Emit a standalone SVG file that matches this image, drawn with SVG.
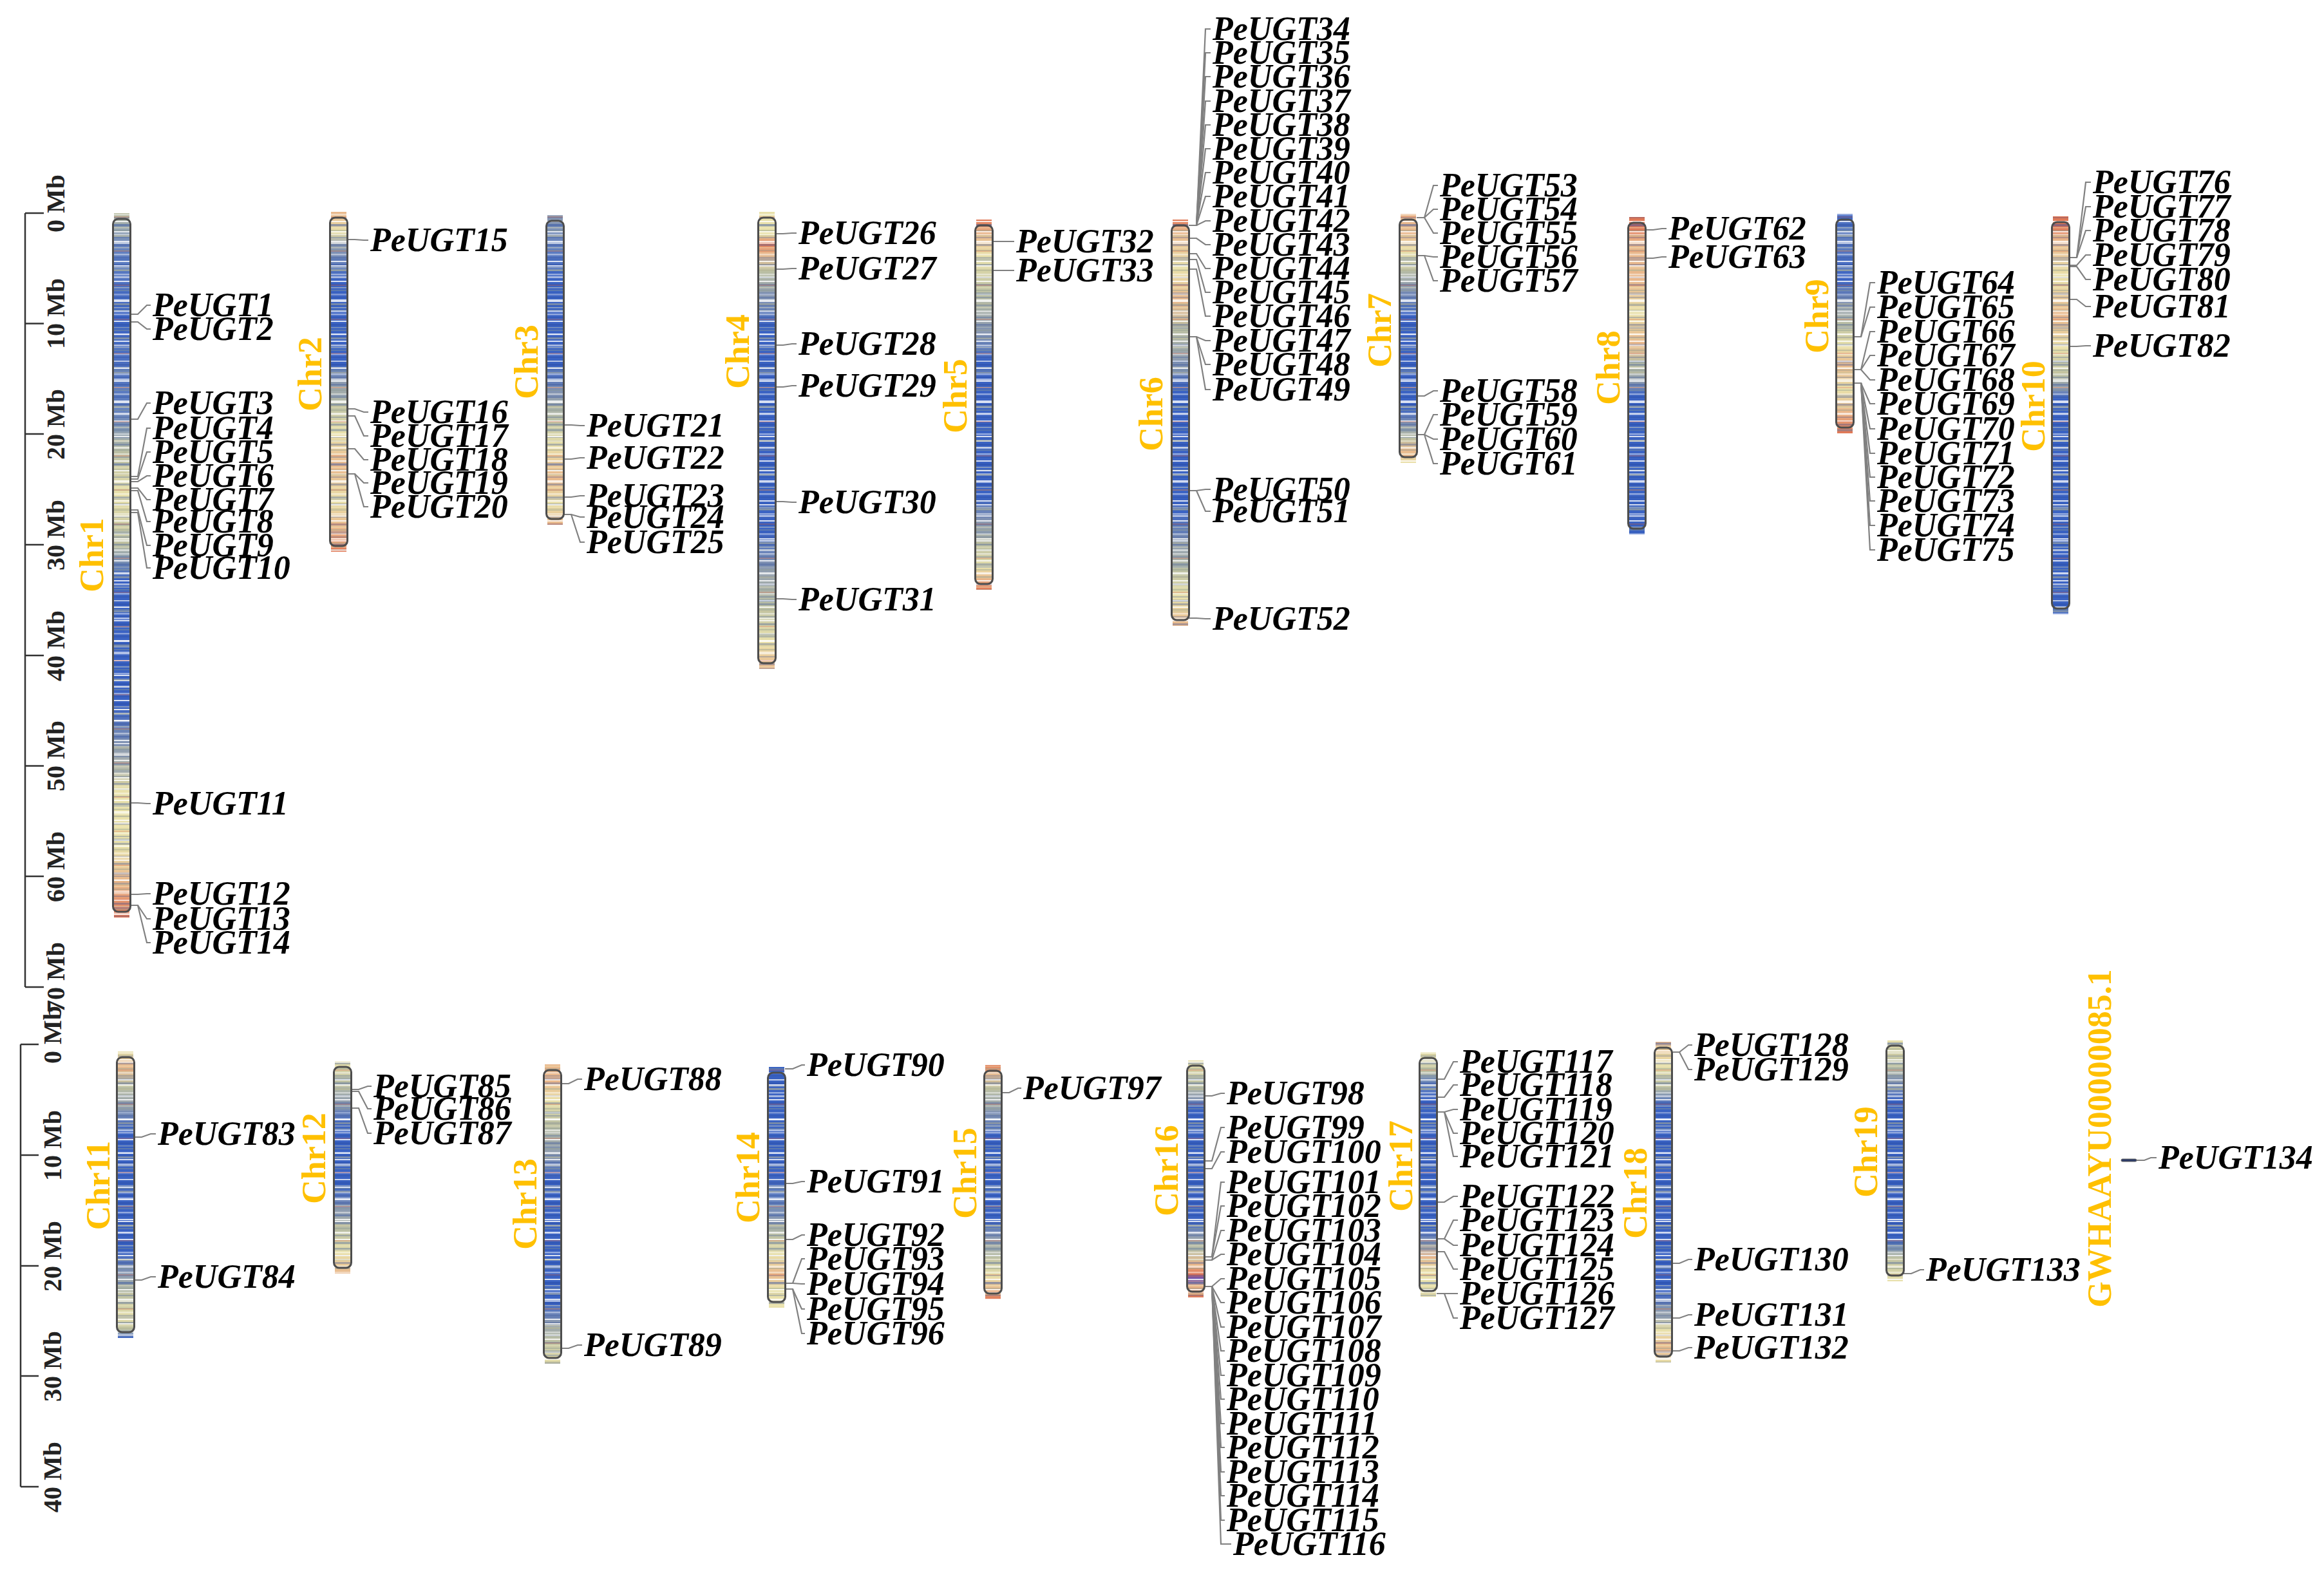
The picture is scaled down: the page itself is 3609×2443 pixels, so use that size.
<svg xmlns="http://www.w3.org/2000/svg" width="3609" height="2443" viewBox="0 0 3609 2443">
<style>
.g{font-family:"Liberation Serif","Times New Roman",serif;font-weight:bold;font-style:italic;font-size:52px;fill:#000}
.c{font-family:"Liberation Serif","Times New Roman",serif;font-weight:bold;font-size:52px;fill:#FFC000;text-anchor:middle}
.s{font-family:"Liberation Serif","Times New Roman",serif;font-weight:bold;font-size:40px;fill:#222;text-anchor:middle}
.ol{fill:none;stroke:#4d4d4d;stroke-width:3}
.ax{fill:none;stroke:#333;stroke-width:2.5}
#connectors polyline{fill:none;stroke:#808080;stroke-width:2.2}
</style>
<defs>
<pattern id="pa" patternUnits="userSpaceOnUse" width="40" height="31">
<rect y="2" width="40" height="2" fill="#fff" opacity=".8"/>
<rect y="7" width="40" height="3" fill="#1f3f95" opacity=".3"/>
<rect y="12" width="40" height="1.5" fill="#f2ecc0" opacity=".5"/>
<rect y="16" width="40" height="2" fill="#8d9a8e" opacity=".4"/>
<rect y="22" width="40" height="2.5" fill="#fff" opacity=".45"/>
<rect y="27" width="40" height="2" fill="#1f3f95" opacity=".25"/>
</pattern>
<pattern id="pb" patternUnits="userSpaceOnUse" width="40" height="53">
<rect y="5" width="40" height="3" fill="#fff" opacity=".55"/>
<rect y="18" width="40" height="2" fill="#d9694c" opacity=".3"/>
<rect y="30" width="40" height="4" fill="#2a4fae" opacity=".2"/>
<rect y="41" width="40" height="2" fill="#fff" opacity=".8"/>
<rect y="47" width="40" height="3" fill="#c9c39a" opacity=".45"/>
</pattern>
<linearGradient id="c1" x2="0" y2="1"><stop offset="0" stop-color="#bcc0a4"/><stop offset=".05" stop-color="#6482c0"/><stop offset=".15" stop-color="#3b63c3"/><stop offset=".28" stop-color="#6482c0"/><stop offset=".34" stop-color="#bcc0a4"/><stop offset=".4" stop-color="#e9e1ab"/><stop offset=".47" stop-color="#bcc0a4"/><stop offset=".52" stop-color="#3b63c3"/><stop offset=".7" stop-color="#3b63c3"/><stop offset=".76" stop-color="#8d9bb0"/><stop offset=".82" stop-color="#e9e1ab"/><stop offset=".9" stop-color="#e9e1ab"/><stop offset=".95" stop-color="#e9b88c"/><stop offset="1" stop-color="#e07856"/></linearGradient>
<linearGradient id="c2" x2="0" y2="1"><stop offset="0" stop-color="#e9b88c"/><stop offset=".06" stop-color="#e9e1ab"/><stop offset=".1" stop-color="#8d9bb0"/><stop offset=".2" stop-color="#3b63c3"/><stop offset=".45" stop-color="#3b63c3"/><stop offset=".5" stop-color="#8d9bb0"/><stop offset=".57" stop-color="#bcc0a4"/><stop offset=".65" stop-color="#e9e1ab"/><stop offset=".75" stop-color="#e9b88c"/><stop offset=".85" stop-color="#e9e1ab"/><stop offset=".93" stop-color="#e9b88c"/><stop offset="1" stop-color="#e07856"/></linearGradient>
<linearGradient id="c3" x2="0" y2="1"><stop offset="0" stop-color="#8d9bb0"/><stop offset=".1" stop-color="#6482c0"/><stop offset=".2" stop-color="#3b63c3"/><stop offset=".5" stop-color="#3b63c3"/><stop offset=".58" stop-color="#8d9bb0"/><stop offset=".66" stop-color="#bcc0a4"/><stop offset=".74" stop-color="#e9e1ab"/><stop offset=".85" stop-color="#e9b88c"/><stop offset=".93" stop-color="#e9e1ab"/><stop offset="1" stop-color="#e9b88c"/></linearGradient>
<linearGradient id="c4" x2="0" y2="1"><stop offset="0" stop-color="#e9e1ab"/><stop offset=".05" stop-color="#e9e1ab"/><stop offset=".07" stop-color="#e07856"/><stop offset=".09" stop-color="#e9b88c"/><stop offset=".13" stop-color="#bcc0a4"/><stop offset=".18" stop-color="#8d9bb0"/><stop offset=".25" stop-color="#3b63c3"/><stop offset=".7" stop-color="#3b63c3"/><stop offset=".78" stop-color="#8d9bb0"/><stop offset=".86" stop-color="#bcc0a4"/><stop offset=".94" stop-color="#e9e1ab"/><stop offset="1" stop-color="#e9b88c"/></linearGradient>
<linearGradient id="c5" x2="0" y2="1"><stop offset="0" stop-color="#e07856"/><stop offset=".04" stop-color="#e9b88c"/><stop offset=".1" stop-color="#e9e1ab"/><stop offset=".2" stop-color="#bcc0a4"/><stop offset=".3" stop-color="#8d9bb0"/><stop offset=".38" stop-color="#3b63c3"/><stop offset=".75" stop-color="#3b63c3"/><stop offset=".82" stop-color="#8d9bb0"/><stop offset=".88" stop-color="#bcc0a4"/><stop offset=".94" stop-color="#e9e1ab"/><stop offset=".97" stop-color="#e9b88c"/><stop offset="1" stop-color="#e07856"/></linearGradient>
<linearGradient id="c6" x2="0" y2="1"><stop offset="0" stop-color="#e07856"/><stop offset=".03" stop-color="#e9b88c"/><stop offset=".12" stop-color="#e9e1ab"/><stop offset=".2" stop-color="#e9b88c"/><stop offset=".27" stop-color="#bcc0a4"/><stop offset=".35" stop-color="#8d9bb0"/><stop offset=".42" stop-color="#3b63c3"/><stop offset=".72" stop-color="#3b63c3"/><stop offset=".8" stop-color="#8d9bb0"/><stop offset=".86" stop-color="#bcc0a4"/><stop offset=".93" stop-color="#e9e1ab"/><stop offset="1" stop-color="#e9b88c"/></linearGradient>
<linearGradient id="c7" x2="0" y2="1"><stop offset="0" stop-color="#e9b88c"/><stop offset=".08" stop-color="#e9b88c"/><stop offset=".15" stop-color="#e9e1ab"/><stop offset=".22" stop-color="#bcc0a4"/><stop offset=".3" stop-color="#8d9bb0"/><stop offset=".4" stop-color="#3b63c3"/><stop offset=".78" stop-color="#3b63c3"/><stop offset=".85" stop-color="#8d9bb0"/><stop offset=".9" stop-color="#bcc0a4"/><stop offset=".95" stop-color="#e9b88c"/><stop offset="1" stop-color="#e9e1ab"/></linearGradient>
<linearGradient id="c8" x2="0" y2="1"><stop offset="0" stop-color="#e07856"/><stop offset=".04" stop-color="#e07856"/><stop offset=".08" stop-color="#e9b88c"/><stop offset=".2" stop-color="#e9b88c"/><stop offset=".3" stop-color="#e9e1ab"/><stop offset=".4" stop-color="#e9b88c"/><stop offset=".46" stop-color="#bcc0a4"/><stop offset=".52" stop-color="#8d9bb0"/><stop offset=".56" stop-color="#3b63c3"/><stop offset="1" stop-color="#3b63c3"/></linearGradient>
<linearGradient id="c9" x2="0" y2="1"><stop offset="0" stop-color="#3b63c3"/><stop offset=".1" stop-color="#6482c0"/><stop offset=".3" stop-color="#3b63c3"/><stop offset=".42" stop-color="#8d9bb0"/><stop offset=".5" stop-color="#bcc0a4"/><stop offset=".6" stop-color="#e9e1ab"/><stop offset=".7" stop-color="#e9b88c"/><stop offset=".8" stop-color="#e9e1ab"/><stop offset=".9" stop-color="#e9b88c"/><stop offset="1" stop-color="#e07856"/></linearGradient>
<linearGradient id="c10" x2="0" y2="1"><stop offset="0" stop-color="#e07856"/><stop offset=".03" stop-color="#e07856"/><stop offset=".06" stop-color="#e9b88c"/><stop offset=".15" stop-color="#e9e1ab"/><stop offset=".25" stop-color="#e9b88c"/><stop offset=".33" stop-color="#e9e1ab"/><stop offset=".4" stop-color="#bcc0a4"/><stop offset=".43" stop-color="#8d9bb0"/><stop offset=".46" stop-color="#3b63c3"/><stop offset="1" stop-color="#3b63c3"/></linearGradient>
<linearGradient id="c11" x2="0" y2="1"><stop offset="0" stop-color="#e9e1ab"/><stop offset=".05" stop-color="#e9b88c"/><stop offset=".12" stop-color="#bcc0a4"/><stop offset=".2" stop-color="#8d9bb0"/><stop offset=".27" stop-color="#3b63c3"/><stop offset=".7" stop-color="#3b63c3"/><stop offset=".78" stop-color="#8d9bb0"/><stop offset=".85" stop-color="#bcc0a4"/><stop offset=".93" stop-color="#e9e1ab"/><stop offset=".97" stop-color="#bcc0a4"/><stop offset="1" stop-color="#3b63c3"/></linearGradient>
<linearGradient id="c12" x2="0" y2="1"><stop offset="0" stop-color="#e9e1ab"/><stop offset=".1" stop-color="#bcc0a4"/><stop offset=".2" stop-color="#8d9bb0"/><stop offset=".3" stop-color="#3b63c3"/><stop offset=".6" stop-color="#3b63c3"/><stop offset=".7" stop-color="#8d9bb0"/><stop offset=".8" stop-color="#bcc0a4"/><stop offset=".9" stop-color="#e9e1ab"/><stop offset="1" stop-color="#e9b88c"/></linearGradient>
<linearGradient id="c13" x2="0" y2="1"><stop offset="0" stop-color="#e9b88c"/><stop offset=".06" stop-color="#e9b88c"/><stop offset=".12" stop-color="#e9e1ab"/><stop offset=".2" stop-color="#bcc0a4"/><stop offset=".3" stop-color="#8d9bb0"/><stop offset=".38" stop-color="#3b63c3"/><stop offset=".8" stop-color="#3b63c3"/><stop offset=".86" stop-color="#8d9bb0"/><stop offset=".92" stop-color="#bcc0a4"/><stop offset="1" stop-color="#e9e1ab"/></linearGradient>
<linearGradient id="c14" x2="0" y2="1"><stop offset="0" stop-color="#3b63c3"/><stop offset=".45" stop-color="#3b63c3"/><stop offset=".55" stop-color="#6482c0"/><stop offset=".64" stop-color="#8d9bb0"/><stop offset=".7" stop-color="#bcc0a4"/><stop offset=".78" stop-color="#e9e1ab"/><stop offset=".86" stop-color="#e9b88c"/><stop offset=".92" stop-color="#e9e1ab"/><stop offset="1" stop-color="#e9e1ab"/></linearGradient>
<linearGradient id="c15" x2="0" y2="1"><stop offset="0" stop-color="#e07856"/><stop offset=".03" stop-color="#e9b88c"/><stop offset=".1" stop-color="#bcc0a4"/><stop offset=".2" stop-color="#8d9bb0"/><stop offset=".3" stop-color="#3b63c3"/><stop offset=".66" stop-color="#3b63c3"/><stop offset=".74" stop-color="#8d9bb0"/><stop offset=".82" stop-color="#bcc0a4"/><stop offset=".9" stop-color="#e9e1ab"/><stop offset=".96" stop-color="#e9b88c"/><stop offset="1" stop-color="#e07856"/></linearGradient>
<linearGradient id="c16" x2="0" y2="1"><stop offset="0" stop-color="#e9e1ab"/><stop offset=".1" stop-color="#bcc0a4"/><stop offset=".16" stop-color="#8d9bb0"/><stop offset=".2" stop-color="#3b63c3"/><stop offset=".68" stop-color="#3b63c3"/><stop offset=".74" stop-color="#8d9bb0"/><stop offset=".8" stop-color="#bcc0a4"/><stop offset=".86" stop-color="#e9b88c"/><stop offset=".9" stop-color="#e07856"/><stop offset=".92" stop-color="#6a4fb0"/><stop offset=".95" stop-color="#e9b88c"/><stop offset="1" stop-color="#e07856"/></linearGradient>
<linearGradient id="c17" x2="0" y2="1"><stop offset="0" stop-color="#e9e1ab"/><stop offset=".08" stop-color="#bcc0a4"/><stop offset=".13" stop-color="#6482c0"/><stop offset=".2" stop-color="#3b63c3"/><stop offset=".72" stop-color="#3b63c3"/><stop offset=".78" stop-color="#8d9bb0"/><stop offset=".84" stop-color="#e9b88c"/><stop offset=".9" stop-color="#e9e1ab"/><stop offset="1" stop-color="#e9e1ab"/></linearGradient>
<linearGradient id="c18" x2="0" y2="1"><stop offset="0" stop-color="#e9b88c"/><stop offset=".07" stop-color="#e9e1ab"/><stop offset=".14" stop-color="#bcc0a4"/><stop offset=".2" stop-color="#3b63c3"/><stop offset=".78" stop-color="#3b63c3"/><stop offset=".84" stop-color="#8d9bb0"/><stop offset=".9" stop-color="#e9e1ab"/><stop offset=".96" stop-color="#e9b88c"/><stop offset="1" stop-color="#e9e1ab"/></linearGradient>
<linearGradient id="c19" x2="0" y2="1"><stop offset="0" stop-color="#e9e1ab"/><stop offset=".1" stop-color="#bcc0a4"/><stop offset=".18" stop-color="#8d9bb0"/><stop offset=".25" stop-color="#3b63c3"/><stop offset=".82" stop-color="#3b63c3"/><stop offset=".9" stop-color="#bcc0a4"/><stop offset="1" stop-color="#e9e1ab"/></linearGradient>
</defs>
<rect width="3609" height="2443" fill="#fff"/>

<g id="scale-top">
<path class="ax" d="M39,331V1533M39,331H68M39,502.5H68M39,674H68M39,846H68M39,1018H68M39,1189.5H68M39,1361H68M39,1533H68"/>
<text class="s" transform="translate(100,316) rotate(-90)">0 Mb</text>
<text class="s" transform="translate(100,487) rotate(-90)">10 Mb</text>
<text class="s" transform="translate(100,659) rotate(-90)">20 Mb</text>
<text class="s" transform="translate(100,831) rotate(-90)">30 Mb</text>
<text class="s" transform="translate(100,1003) rotate(-90)">40 Mb</text>
<text class="s" transform="translate(100,1174) rotate(-90)">50 Mb</text>
<text class="s" transform="translate(100,1346) rotate(-90)">60 Mb</text>
<text class="s" transform="translate(100,1518) rotate(-90)">70 Mb</text>
</g>
<g id="scale-bottom">
<path class="ax" d="M32,1622V2309M32,1622H60M32,1794H60M32,1966H60M32,2137H60M32,2309H60"/>
<text class="s" transform="translate(95,1607) rotate(-90)">0 Mb</text>
<text class="s" transform="translate(95,1779) rotate(-90)">10 Mb</text>
<text class="s" transform="translate(95,1951) rotate(-90)">20 Mb</text>
<text class="s" transform="translate(95,2122) rotate(-90)">30 Mb</text>
<text class="s" transform="translate(95,2294) rotate(-90)">40 Mb</text>
</g>

<g id="connectors">
<polyline points="202,488 214,488 228,474 234,474"/>
<polyline points="202,500 214,500 228,511 234,511"/>
<polyline points="202,651 214,651 228,626 234,626"/>
<polyline points="202,740 214,740 228,665 234,665"/>
<polyline points="202,744 214,744 228,702 234,702"/>
<polyline points="202,748 214,748 228,739 234,739"/>
<polyline points="202,758 214,758 228,776 234,776"/>
<polyline points="202,762 214,762 228,810 234,810"/>
<polyline points="202,792 214,792 228,847 234,847"/>
<polyline points="202,796 214,796 228,882 234,882"/>
<polyline points="202,1247 214,1247 228,1248 234,1248"/>
<polyline points="202,1389 214,1389 228,1388 234,1388"/>
<polyline points="202,1406 214,1406 228,1427 234,1427"/>
<polyline points="202,1406 214,1406 228,1464 234,1464"/>
<polyline points="539,372 551,372 565,373 572,373"/>
<polyline points="539,635 551,635 565,640 572,640"/>
<polyline points="539,646 551,646 565,677 572,677"/>
<polyline points="539,697 551,697 565,714 572,714"/>
<polyline points="539,736 551,736 565,750 572,750"/>
<polyline points="539,736 551,736 565,787 572,787"/>
<polyline points="875,660 887,660 901,661 908,661"/>
<polyline points="875,713 887,713 901,711 908,711"/>
<polyline points="875,772 887,772 901,770 908,770"/>
<polyline points="875,799 887,799 901,803 908,803"/>
<polyline points="875,799 887,799 901,842 908,842"/>
<polyline points="1204,363 1216,363 1230,362 1237,362"/>
<polyline points="1204,418 1216,418 1230,417 1237,417"/>
<polyline points="1204,536 1216,536 1230,534 1237,534"/>
<polyline points="1204,601 1216,601 1230,599 1237,599"/>
<polyline points="1204,779 1216,779 1230,780 1237,780"/>
<polyline points="1204,930 1216,930 1230,931 1237,931"/>
<polyline points="1541,375 1575,375"/>
<polyline points="1541,420 1575,420"/>
<polyline points="1846,350 1858,350 1872,45 1880,45"/>
<polyline points="1846,350 1858,350 1872,82 1880,82"/>
<polyline points="1846,350 1858,350 1872,119 1880,119"/>
<polyline points="1846,350 1858,350 1872,157 1880,157"/>
<polyline points="1846,350 1858,350 1872,194 1880,194"/>
<polyline points="1846,350 1858,350 1872,231 1880,231"/>
<polyline points="1846,350 1858,350 1872,268 1880,268"/>
<polyline points="1846,350 1858,350 1872,305 1880,305"/>
<polyline points="1846,350 1858,350 1872,343 1880,343"/>
<polyline points="1846,370 1858,370 1872,380 1880,380"/>
<polyline points="1846,394 1858,394 1872,417 1880,417"/>
<polyline points="1846,403 1858,403 1872,454 1880,454"/>
<polyline points="1846,418 1858,418 1872,491 1880,491"/>
<polyline points="1846,523 1858,523 1872,529 1880,529"/>
<polyline points="1846,523 1858,523 1872,566 1880,566"/>
<polyline points="1846,523 1858,523 1872,605 1880,605"/>
<polyline points="1846,762 1858,762 1872,760 1880,760"/>
<polyline points="1846,762 1858,762 1872,794 1880,794"/>
<polyline points="1846,960 1858,960 1872,961 1880,961"/>
<polyline points="2200,338 2212,338 2226,288 2233,288"/>
<polyline points="2200,338 2212,338 2226,325 2233,325"/>
<polyline points="2200,338 2212,338 2226,362 2233,362"/>
<polyline points="2200,397 2212,397 2226,399 2233,399"/>
<polyline points="2200,397 2212,397 2226,436 2233,436"/>
<polyline points="2200,615 2212,615 2226,607 2233,607"/>
<polyline points="2200,675 2212,675 2226,644 2233,644"/>
<polyline points="2200,675 2212,675 2226,682 2233,682"/>
<polyline points="2200,675 2212,675 2226,720 2233,720"/>
<polyline points="2555,357 2567,357 2581,355 2588,355"/>
<polyline points="2555,401 2567,401 2581,399 2588,399"/>
<polyline points="2878,523 2890,523 2904,439 2912,439"/>
<polyline points="2878,523 2890,523 2904,477 2912,477"/>
<polyline points="2878,574 2890,574 2904,515 2912,515"/>
<polyline points="2878,574 2890,574 2904,552 2912,552"/>
<polyline points="2878,574 2890,574 2904,590 2912,590"/>
<polyline points="2878,595 2890,595 2904,627 2912,627"/>
<polyline points="2878,595 2890,595 2904,666 2912,666"/>
<polyline points="2878,595 2890,595 2904,704 2912,704"/>
<polyline points="2878,595 2890,595 2904,741 2912,741"/>
<polyline points="2878,595 2890,595 2904,778 2912,778"/>
<polyline points="2878,595 2890,595 2904,816 2912,816"/>
<polyline points="2878,595 2890,595 2904,854 2912,854"/>
<polyline points="3213,400 3225,400 3239,283 3247,283"/>
<polyline points="3213,400 3225,400 3239,321 3247,321"/>
<polyline points="3213,400 3225,400 3239,358 3247,358"/>
<polyline points="3213,412 3225,412 3239,396 3247,396"/>
<polyline points="3213,414 3225,414 3239,434 3247,434"/>
<polyline points="3213,465 3225,465 3239,476 3247,476"/>
<polyline points="3213,538 3225,538 3239,537 3247,537"/>
<polyline points="208,1766 220,1766 234,1761 242,1761"/>
<polyline points="208,1988 220,1988 234,1983 242,1983"/>
<polyline points="545,1692 557,1692 571,1687 577,1687"/>
<polyline points="545,1695 557,1695 571,1722 577,1722"/>
<polyline points="545,1721 557,1721 571,1760 577,1760"/>
<polyline points="871,1683 883,1683 897,1676 904,1676"/>
<polyline points="871,2094 883,2094 897,2089 904,2089"/>
<polyline points="1219,1660 1231,1660 1245,1654 1250,1654"/>
<polyline points="1219,1838 1231,1838 1245,1835 1250,1835"/>
<polyline points="1219,1925 1231,1925 1245,1918 1250,1918"/>
<polyline points="1219,1993 1231,1993 1245,1955 1250,1955"/>
<polyline points="1219,1993 1231,1993 1245,1994 1250,1994"/>
<polyline points="1219,2002 1231,2002 1245,2033 1250,2033"/>
<polyline points="1219,2002 1231,2002 1245,2071 1250,2071"/>
<polyline points="1555,1697 1567,1697 1581,1690 1586,1690"/>
<polyline points="1870,1702 1882,1702 1896,1698 1902,1698"/>
<polyline points="1870,1803 1882,1803 1896,1751 1902,1751"/>
<polyline points="1870,1815 1882,1815 1896,1789 1902,1789"/>
<polyline points="1870,1952 1882,1952 1896,1836 1902,1836"/>
<polyline points="1870,1952 1882,1952 1896,1873 1902,1873"/>
<polyline points="1870,1957 1882,1957 1896,1911 1902,1911"/>
<polyline points="1870,1957 1882,1957 1896,1948 1902,1948"/>
<polyline points="1870,1998 1882,1998 1896,1986 1902,1986"/>
<polyline points="1870,1998 1882,1998 1896,2023 1902,2023"/>
<polyline points="1870,1998 1882,1998 1896,2061 1902,2061"/>
<polyline points="1870,1998 1882,1998 1896,2098 1902,2098"/>
<polyline points="1870,1998 1882,1998 1896,2136 1902,2136"/>
<polyline points="1870,1998 1882,1998 1896,2173 1902,2173"/>
<polyline points="1870,1998 1882,1998 1896,2211 1902,2211"/>
<polyline points="1870,1998 1882,1998 1896,2248 1902,2248"/>
<polyline points="1870,1998 1882,1998 1896,2286 1902,2286"/>
<polyline points="1870,1998 1882,1998 1896,2323 1902,2323"/>
<polyline points="1870,1998 1882,1998 1896,2361 1902,2361"/>
<polyline points="1870,1998 1882,1998 1896,2398 1912,2398"/>
<polyline points="2231,1676 2243,1676 2257,1649 2264,1649"/>
<polyline points="2231,1704 2243,1704 2257,1685 2264,1685"/>
<polyline points="2231,1727 2243,1727 2257,1723 2264,1723"/>
<polyline points="2231,1727 2243,1727 2257,1760 2264,1760"/>
<polyline points="2231,1727 2243,1727 2257,1796 2264,1796"/>
<polyline points="2231,1867 2243,1867 2257,1858 2264,1858"/>
<polyline points="2231,1924 2243,1924 2257,1895 2264,1895"/>
<polyline points="2231,1924 2243,1924 2257,1934 2264,1934"/>
<polyline points="2231,1944 2243,1944 2257,1971 2264,1971"/>
<polyline points="2231,2009 2243,2009 2257,2009 2264,2009"/>
<polyline points="2231,2009 2243,2009 2257,2047 2264,2047"/>
<polyline points="2596,1634 2608,1634 2622,1623 2628,1623"/>
<polyline points="2596,1634 2608,1634 2622,1661 2628,1661"/>
<polyline points="2596,1962 2608,1962 2622,1956 2628,1956"/>
<polyline points="2596,2047 2608,2047 2622,2042 2628,2042"/>
<polyline points="2596,2098 2608,2098 2622,2093 2628,2093"/>
<polyline points="2956,1978 2968,1978 2982,1972 2988,1972"/>
<polyline points="3318,1802 3330,1802 3340,1798 3349,1798"/>
</g>

<g id="chr1">
<rect x="177" y="331" width="24" height="1094" fill="url(#c1)"/><rect x="177" y="331" width="24" height="1094" fill="url(#pa)"/><rect x="177" y="331" width="24" height="1094" fill="url(#pb)"/>
<rect class="ol" x="175.5" y="340" width="27" height="1076" rx="8"/>
<text class="c" transform="translate(160,862) rotate(-90)">Chr1</text>
<text class="g" x="237" y="491">PeUGT1</text><text class="g" x="237" y="528">PeUGT2</text><text class="g" x="237" y="643">PeUGT3</text><text class="g" x="237" y="682">PeUGT4</text><text class="g" x="237" y="719">PeUGT5</text><text class="g" x="237" y="756">PeUGT6</text><text class="g" x="237" y="793">PeUGT7</text><text class="g" x="237" y="827">PeUGT8</text><text class="g" x="237" y="864">PeUGT9</text><text class="g" x="237" y="899">PeUGT10</text><text class="g" x="237" y="1265">PeUGT11</text><text class="g" x="237" y="1405">PeUGT12</text><text class="g" x="237" y="1444">PeUGT13</text><text class="g" x="237" y="1481">PeUGT14</text>
</g>
<g id="chr2">
<rect x="514" y="329" width="24" height="528" fill="url(#c2)"/><rect x="514" y="329" width="24" height="528" fill="url(#pa)"/><rect x="514" y="329" width="24" height="528" fill="url(#pb)"/>
<rect class="ol" x="512.5" y="338" width="27" height="510" rx="8"/>
<text class="c" transform="translate(499,581) rotate(-90)">Chr2</text>
<text class="g" x="575" y="390">PeUGT15</text><text class="g" x="575" y="657">PeUGT16</text><text class="g" x="575" y="694">PeUGT17</text><text class="g" x="575" y="731">PeUGT18</text><text class="g" x="575" y="767">PeUGT19</text><text class="g" x="575" y="804">PeUGT20</text>
</g>
<g id="chr3">
<rect x="850" y="334" width="24" height="481" fill="url(#c3)"/><rect x="850" y="334" width="24" height="481" fill="url(#pa)"/><rect x="850" y="334" width="24" height="481" fill="url(#pb)"/>
<rect class="ol" x="848.5" y="343" width="27" height="463" rx="8"/>
<text class="c" transform="translate(835,562) rotate(-90)">Chr3</text>
<text class="g" x="911" y="678">PeUGT21</text><text class="g" x="911" y="728">PeUGT22</text><text class="g" x="911" y="787">PeUGT23</text><text class="g" x="911" y="820">PeUGT24</text><text class="g" x="911" y="859">PeUGT25</text>
</g>
<g id="chr4">
<rect x="1179" y="329" width="24" height="710" fill="url(#c4)"/><rect x="1179" y="329" width="24" height="710" fill="url(#pa)"/><rect x="1179" y="329" width="24" height="710" fill="url(#pb)"/>
<rect class="ol" x="1177.5" y="338" width="27" height="692" rx="8"/>
<text class="c" transform="translate(1163,546) rotate(-90)">Chr4</text>
<text class="g" x="1240" y="379">PeUGT26</text><text class="g" x="1240" y="434">PeUGT27</text><text class="g" x="1240" y="551">PeUGT28</text><text class="g" x="1240" y="616">PeUGT29</text><text class="g" x="1240" y="797">PeUGT30</text><text class="g" x="1240" y="948">PeUGT31</text>
</g>
<g id="chr5">
<rect x="1516" y="341" width="24" height="575" fill="url(#c5)"/><rect x="1516" y="341" width="24" height="575" fill="url(#pa)"/><rect x="1516" y="341" width="24" height="575" fill="url(#pb)"/>
<rect class="ol" x="1514.5" y="350" width="27" height="557" rx="8"/>
<text class="c" transform="translate(1501,615) rotate(-90)">Chr5</text>
<text class="g" x="1578" y="392">PeUGT32</text><text class="g" x="1578" y="437">PeUGT33</text>
</g>
<g id="chr6">
<rect x="1821" y="341" width="24" height="631" fill="url(#c6)"/><rect x="1821" y="341" width="24" height="631" fill="url(#pa)"/><rect x="1821" y="341" width="24" height="631" fill="url(#pb)"/>
<rect class="ol" x="1819.5" y="350" width="27" height="613" rx="8"/>
<text class="c" transform="translate(1805,643) rotate(-90)">Chr6</text>
<text class="g" x="1883" y="62">PeUGT34</text><text class="g" x="1883" y="99">PeUGT35</text><text class="g" x="1883" y="136">PeUGT36</text><text class="g" x="1883" y="174">PeUGT37</text><text class="g" x="1883" y="211">PeUGT38</text><text class="g" x="1883" y="248">PeUGT39</text><text class="g" x="1883" y="285">PeUGT40</text><text class="g" x="1883" y="322">PeUGT41</text><text class="g" x="1883" y="360">PeUGT42</text><text class="g" x="1883" y="397">PeUGT43</text><text class="g" x="1883" y="434">PeUGT44</text><text class="g" x="1883" y="471">PeUGT45</text><text class="g" x="1883" y="508">PeUGT46</text><text class="g" x="1883" y="546">PeUGT47</text><text class="g" x="1883" y="583">PeUGT48</text><text class="g" x="1883" y="622">PeUGT49</text><text class="g" x="1883" y="777">PeUGT50</text><text class="g" x="1883" y="811">PeUGT51</text><text class="g" x="1883" y="978">PeUGT52</text>
</g>
<g id="chr7">
<rect x="2175" y="332" width="24" height="387" fill="url(#c7)"/><rect x="2175" y="332" width="24" height="387" fill="url(#pa)"/><rect x="2175" y="332" width="24" height="387" fill="url(#pb)"/>
<rect class="ol" x="2173.5" y="341" width="27" height="369" rx="8"/>
<text class="c" transform="translate(2160,513) rotate(-90)">Chr7</text>
<text class="g" x="2236" y="305">PeUGT53</text><text class="g" x="2236" y="342">PeUGT54</text><text class="g" x="2236" y="379">PeUGT55</text><text class="g" x="2236" y="416">PeUGT56</text><text class="g" x="2236" y="453">PeUGT57</text><text class="g" x="2236" y="624">PeUGT58</text><text class="g" x="2236" y="661">PeUGT59</text><text class="g" x="2236" y="699">PeUGT60</text><text class="g" x="2236" y="737">PeUGT61</text>
</g>
<g id="chr8">
<rect x="2530" y="337" width="24" height="493" fill="url(#c8)"/><rect x="2530" y="337" width="24" height="493" fill="url(#pa)"/><rect x="2530" y="337" width="24" height="493" fill="url(#pb)"/>
<rect class="ol" x="2528.5" y="346" width="27" height="475" rx="8"/>
<text class="c" transform="translate(2515,571) rotate(-90)">Chr8</text>
<text class="g" x="2591" y="372">PeUGT62</text><text class="g" x="2591" y="416">PeUGT63</text>
</g>
<g id="chr9">
<rect x="2853" y="332" width="24" height="341" fill="url(#c9)"/><rect x="2853" y="332" width="24" height="341" fill="url(#pa)"/><rect x="2853" y="332" width="24" height="341" fill="url(#pb)"/>
<rect class="ol" x="2851.5" y="341" width="27" height="323" rx="8"/>
<text class="c" transform="translate(2839,491) rotate(-90)">Chr9</text>
<text class="g" x="2915" y="456">PeUGT64</text><text class="g" x="2915" y="494">PeUGT65</text><text class="g" x="2915" y="532">PeUGT66</text><text class="g" x="2915" y="569">PeUGT67</text><text class="g" x="2915" y="607">PeUGT68</text><text class="g" x="2915" y="644">PeUGT69</text><text class="g" x="2915" y="683">PeUGT70</text><text class="g" x="2915" y="721">PeUGT71</text><text class="g" x="2915" y="758">PeUGT72</text><text class="g" x="2915" y="795">PeUGT73</text><text class="g" x="2915" y="833">PeUGT74</text><text class="g" x="2915" y="871">PeUGT75</text>
</g>
<g id="chr10">
<rect x="3188" y="336" width="24" height="618" fill="url(#c10)"/><rect x="3188" y="336" width="24" height="618" fill="url(#pa)"/><rect x="3188" y="336" width="24" height="618" fill="url(#pb)"/>
<rect class="ol" x="3186.5" y="345" width="27" height="600" rx="8"/>
<text class="c" transform="translate(3175,631) rotate(-90)">Chr10</text>
<text class="g" x="3250" y="300">PeUGT76</text><text class="g" x="3250" y="338">PeUGT77</text><text class="g" x="3250" y="375">PeUGT78</text><text class="g" x="3250" y="413">PeUGT79</text><text class="g" x="3250" y="451">PeUGT80</text><text class="g" x="3250" y="493">PeUGT81</text><text class="g" x="3250" y="554">PeUGT82</text>
</g>
<g id="chr11">
<rect x="183" y="1633" width="24" height="445" fill="url(#c11)"/><rect x="183" y="1633" width="24" height="445" fill="url(#pa)"/><rect x="183" y="1633" width="24" height="445" fill="url(#pb)"/>
<rect class="ol" x="181.5" y="1642" width="27" height="427" rx="8"/>
<text class="c" transform="translate(170,1841) rotate(-90)">Chr11</text>
<text class="g" x="245" y="1778">PeUGT83</text><text class="g" x="245" y="2000">PeUGT84</text>
</g>
<g id="chr12">
<rect x="520" y="1648" width="24" height="330" fill="url(#c12)"/><rect x="520" y="1648" width="24" height="330" fill="url(#pa)"/><rect x="520" y="1648" width="24" height="330" fill="url(#pb)"/>
<rect class="ol" x="518.5" y="1657" width="27" height="312" rx="8"/>
<text class="c" transform="translate(505,1799) rotate(-90)">Chr12</text>
<text class="g" x="580" y="1704">PeUGT85</text><text class="g" x="580" y="1739">PeUGT86</text><text class="g" x="580" y="1777">PeUGT87</text>
</g>
<g id="chr13">
<rect x="846" y="1653" width="24" height="465" fill="url(#c13)"/><rect x="846" y="1653" width="24" height="465" fill="url(#pa)"/><rect x="846" y="1653" width="24" height="465" fill="url(#pb)"/>
<rect class="ol" x="844.5" y="1662" width="27" height="447" rx="8"/>
<text class="c" transform="translate(833,1870) rotate(-90)">Chr13</text>
<text class="g" x="907" y="1693">PeUGT88</text><text class="g" x="907" y="2106">PeUGT89</text>
</g>
<g id="chr14">
<rect x="1194" y="1657" width="24" height="374" fill="url(#c14)"/><rect x="1194" y="1657" width="24" height="374" fill="url(#pa)"/><rect x="1194" y="1657" width="24" height="374" fill="url(#pb)"/>
<rect class="ol" x="1192.5" y="1666" width="27" height="356" rx="8"/>
<text class="c" transform="translate(1179,1829) rotate(-90)">Chr14</text>
<text class="g" x="1253" y="1671">PeUGT90</text><text class="g" x="1253" y="1852">PeUGT91</text><text class="g" x="1253" y="1935">PeUGT92</text><text class="g" x="1253" y="1972">PeUGT93</text><text class="g" x="1253" y="2011">PeUGT94</text><text class="g" x="1253" y="2050">PeUGT95</text><text class="g" x="1253" y="2088">PeUGT96</text>
</g>
<g id="chr15">
<rect x="1530" y="1654" width="24" height="364" fill="url(#c15)"/><rect x="1530" y="1654" width="24" height="364" fill="url(#pa)"/><rect x="1530" y="1654" width="24" height="364" fill="url(#pb)"/>
<rect class="ol" x="1528.5" y="1663" width="27" height="346" rx="8"/>
<text class="c" transform="translate(1516,1822) rotate(-90)">Chr15</text>
<text class="g" x="1589" y="1707">PeUGT97</text>
</g>
<g id="chr16">
<rect x="1845" y="1646" width="24" height="369" fill="url(#c16)"/><rect x="1845" y="1646" width="24" height="369" fill="url(#pa)"/><rect x="1845" y="1646" width="24" height="369" fill="url(#pb)"/>
<rect class="ol" x="1843.5" y="1655" width="27" height="351" rx="8"/>
<text class="c" transform="translate(1829,1818) rotate(-90)">Chr16</text>
<text class="g" x="1905" y="1715">PeUGT98</text><text class="g" x="1905" y="1768">PeUGT99</text><text class="g" x="1905" y="1806">PeUGT100</text><text class="g" x="1905" y="1853">PeUGT101</text><text class="g" x="1905" y="1890">PeUGT102</text><text class="g" x="1905" y="1928">PeUGT103</text><text class="g" x="1905" y="1965">PeUGT104</text><text class="g" x="1905" y="2003">PeUGT105</text><text class="g" x="1905" y="2040">PeUGT106</text><text class="g" x="1905" y="2078">PeUGT107</text><text class="g" x="1905" y="2115">PeUGT108</text><text class="g" x="1905" y="2153">PeUGT109</text><text class="g" x="1905" y="2190">PeUGT110</text><text class="g" x="1905" y="2228">PeUGT111</text><text class="g" x="1905" y="2265">PeUGT112</text><text class="g" x="1905" y="2303">PeUGT113</text><text class="g" x="1905" y="2340">PeUGT114</text><text class="g" x="1905" y="2378">PeUGT115</text><text class="g" x="1915" y="2415">PeUGT116</text>
</g>
<g id="chr17">
<rect x="2206" y="1634" width="24" height="380" fill="url(#c17)"/><rect x="2206" y="1634" width="24" height="380" fill="url(#pa)"/><rect x="2206" y="1634" width="24" height="380" fill="url(#pb)"/>
<rect class="ol" x="2204.5" y="1643" width="27" height="362" rx="8"/>
<text class="c" transform="translate(2193,1811) rotate(-90)">Chr17</text>
<text class="g" x="2267" y="1666">PeUGT117</text><text class="g" x="2267" y="1702">PeUGT118</text><text class="g" x="2267" y="1740">PeUGT119</text><text class="g" x="2267" y="1777">PeUGT120</text><text class="g" x="2267" y="1813">PeUGT121</text><text class="g" x="2267" y="1875">PeUGT122</text><text class="g" x="2267" y="1912">PeUGT123</text><text class="g" x="2267" y="1951">PeUGT124</text><text class="g" x="2267" y="1988">PeUGT125</text><text class="g" x="2267" y="2026">PeUGT126</text><text class="g" x="2267" y="2064">PeUGT127</text>
</g>
<g id="chr18">
<rect x="2571" y="1618" width="24" height="498" fill="url(#c18)"/><rect x="2571" y="1618" width="24" height="498" fill="url(#pa)"/><rect x="2571" y="1618" width="24" height="498" fill="url(#pb)"/>
<rect class="ol" x="2569.5" y="1627" width="27" height="480" rx="8"/>
<text class="c" transform="translate(2557,1853) rotate(-90)">Chr18</text>
<text class="g" x="2631" y="1640">PeUGT128</text><text class="g" x="2631" y="1678">PeUGT129</text><text class="g" x="2631" y="1973">PeUGT130</text><text class="g" x="2631" y="2059">PeUGT131</text><text class="g" x="2631" y="2110">PeUGT132</text>
</g>
<g id="chr19">
<rect x="2931" y="1615" width="24" height="375" fill="url(#c19)"/><rect x="2931" y="1615" width="24" height="375" fill="url(#pa)"/><rect x="2931" y="1615" width="24" height="375" fill="url(#pb)"/>
<rect class="ol" x="2929.5" y="1624" width="27" height="357" rx="8"/>
<text class="c" transform="translate(2915,1789) rotate(-90)">Chr19</text>
<text class="g" x="2991" y="1989">PeUGT133</text>
</g>
<g id="GWHAAYU00000085.1">
<rect x="3294" y="1800" width="24" height="4" rx="2" fill="#2b3a67" stroke="#666" stroke-width="1"/>
<text class="c" transform="translate(3278,1768) rotate(-90)">GWHAAYU00000085.1</text>
<text class="g" x="3352" y="1815">PeUGT134</text>
</g>
</svg>
